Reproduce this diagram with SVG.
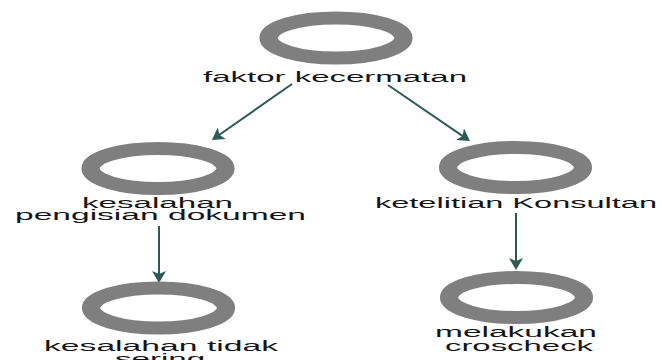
<svg xmlns="http://www.w3.org/2000/svg" xmlns:xlink="http://www.w3.org/1999/xlink" width="662" height="360" viewBox="0 0 662 360">
  <style>
    .lbl { font-family: "Liberation Sans", Arial, sans-serif; font-size: 15px; fill: #151515; text-anchor: middle; }
    .edge { stroke: #2e5954; stroke-width: 2; fill: none; marker-end: url(#arrow); }
  </style>
  <defs>
    <ellipse id="ring" cx="0" cy="0" rx="48.2" ry="20" fill="none" stroke="#7f7f7f" stroke-width="13"/>
    <marker id="arrow" viewBox="0 0 12 14" refX="9" refY="7" markerWidth="12" markerHeight="14" markerUnits="userSpaceOnUse" orient="auto">
      <path d="M0,0 L12,7 L0,14 L3,7 z" fill="#2e5954"/>
    </marker>
  </defs>
  <rect width="662" height="360" fill="#ffffff"/>
  <g id="connectors">
    <line class="edge" x1="292" y1="84" x2="214.4" y2="138.3"/>
    <line class="edge" x1="388" y1="85" x2="467.5" y2="139.3"/>
    <line class="edge" x1="159" y1="226" x2="159" y2="280"/>
    <line class="edge" x1="516" y1="213" x2="516" y2="267"/>
  </g>
  <g id="node-faktor-kecermatan">
    <use xlink:href="#ring" transform="translate(336,38) scale(1.4,1)"/>
    <text class="lbl" transform="translate(335,82) scale(2.2,1)" textLength="120" lengthAdjust="spacingAndGlyphs">faktor kecermatan</text>
  </g>
  <g id="node-kesalahan-pengisian">
    <use xlink:href="#ring" transform="translate(158,168.5) scale(1.4,1)"/>
    <text class="lbl" transform="translate(157.5,208) scale(2.2,1)" textLength="68.6" lengthAdjust="spacingAndGlyphs">kesalahan</text>
    <text class="lbl" transform="translate(160.5,220) scale(2.2,1)" textLength="132.3" lengthAdjust="spacingAndGlyphs">pengisian dokumen</text>
  </g>
  <g id="node-ketelitian-konsultan">
    <use xlink:href="#ring" transform="translate(515.5,167.5) scale(1.4,1)"/>
    <text class="lbl" transform="translate(516,208) scale(2.2,1)" textLength="128.2" lengthAdjust="spacingAndGlyphs">ketelitian Konsultan</text>
  </g>
  <g id="node-kesalahan-tidak-sering">
    <use xlink:href="#ring" transform="translate(158.5,308) scale(1.4,1)"/>
    <text class="lbl" transform="translate(161,351) scale(2.2,1)" textLength="106.4" lengthAdjust="spacingAndGlyphs">kesalahan tidak</text>
    <text class="lbl" transform="translate(160,364) scale(2.2,1)" textLength="41" lengthAdjust="spacingAndGlyphs">sering</text>
  </g>
  <g id="node-melakukan-croscheck">
    <use xlink:href="#ring" transform="translate(516.5,297.5) scale(1.4,1)"/>
    <text class="lbl" transform="translate(516,337) scale(2.2,1)" textLength="73.6" lengthAdjust="spacingAndGlyphs">melakukan</text>
    <text class="lbl" transform="translate(519,351) scale(2.2,1)" textLength="67.3" lengthAdjust="spacingAndGlyphs">croscheck</text>
  </g>
</svg>
